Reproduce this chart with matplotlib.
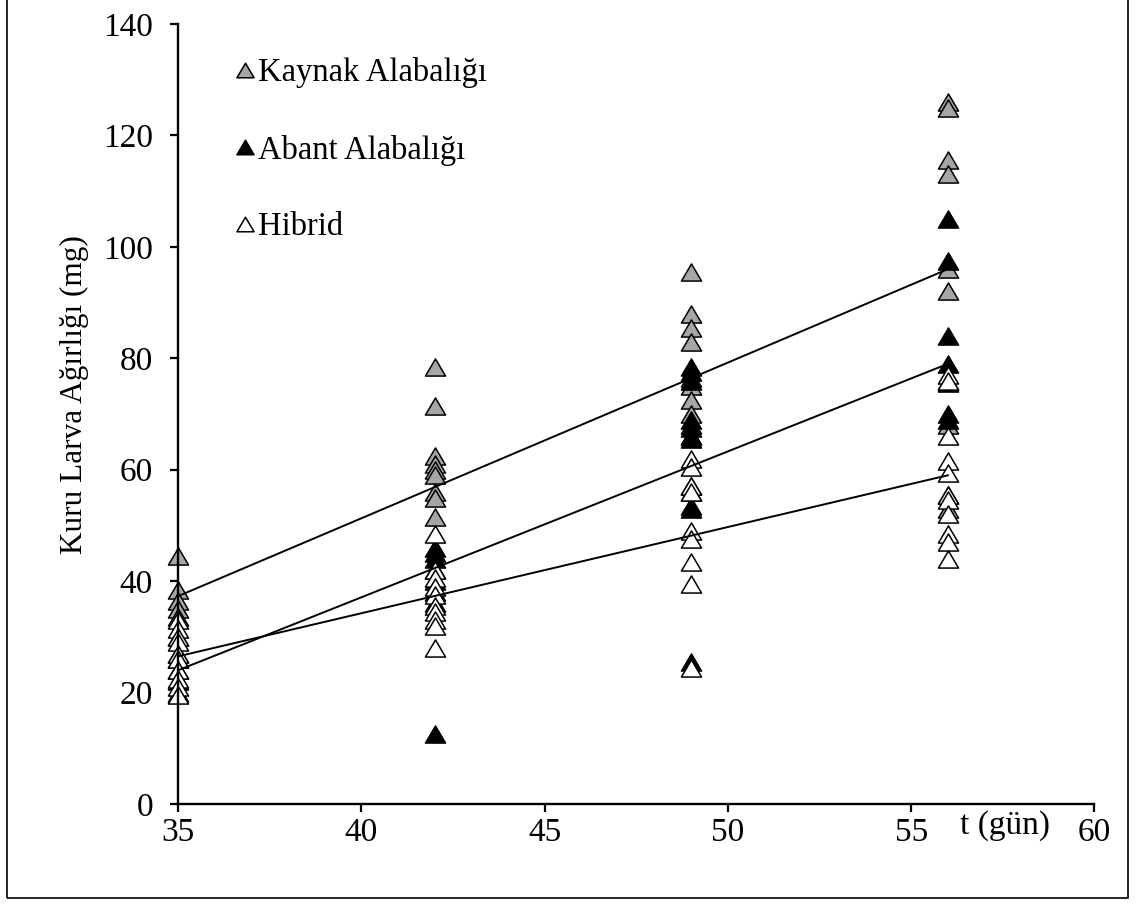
import numpy as np
import matplotlib.pyplot as plt
from matplotlib.patches import Rectangle
from matplotlib.path import Path

plt.rcParams['font.family'] = ['Liberation Serif', 'DejaVu Serif']

# Dry larval weight (mg) sampled on each day
kaynak_days = [35] * 5 + [42] * 9 + [49] * 10 + [56] * 9
kaynak_w = [44.5, 38.5, 36.5, 35, 33.5,
            78.5, 71.5, 62.5, 61, 60, 59, 56, 55, 51.5,
            95.5, 88, 85.5, 83, 76.5, 75, 72.5, 70, 68, 66,
            126, 125, 115.5, 113, 96, 92, 76, 68, 53]

abant_days = [35] * 6 + [42] * 8 + [49] * 12 + [56] * 8
abant_w = [30, 27, 26, 24, 22, 20,
           46, 45, 44, 42, 40, 38, 36, 12.5,
           78.5, 77.5, 76, 69, 67.5, 66, 65.5, 57, 56, 53.5, 53, 25.5,
           105, 97.5, 84, 79, 75.5, 70, 69, 55.5]

hibrid_days = [35] * 10 + [42] * 10 + [49] * 9 + [56] * 11
hibrid_w = [33, 31.5, 30, 29, 27, 26, 24, 22.5, 21, 19.5,
            48.5, 42, 40.5, 39, 37.5, 35.5, 34.5, 33, 32, 28,
            62, 60.5, 57, 56, 49, 47.5, 43.5, 39.5, 24.5,
            77, 76, 66, 61.5, 59.5, 55.5, 54.5, 52, 48.5, 47, 44]

# linear trend end values
fit_days = [35, 56]
kaynak_fit = [37.3, 96.0]
abant_fit = [24.0, 79.0]
hibrid_fit = [26.5, 59.0]

labels = ['Kaynak Alabalığı', 'Abant Alabalığı', 'Hibrid']
colors = ['#a6a6a6', 'black', 'white']

# slightly flattened triangle marker
tri = Path([(0, 0.85), (-1, -0.85), (1, -0.85), (0, 0.85)],
           [Path.MOVETO, Path.LINETO, Path.LINETO, Path.CLOSEPOLY])

fig = plt.figure(figsize=(11.41, 9.09), dpi=100)
ax = fig.add_axes([0.156, 0.1155, 0.8032, 0.8581])

series = [(kaynak_days, kaynak_w), (abant_days, abant_w), (hibrid_days, hibrid_w)]
for (d, w), c, lab in zip(series, colors, labels):
    ax.plot(d, w, linestyle='none', marker=tri, markersize=14.5,
            markerfacecolor=c, markeredgecolor='black', markeredgewidth=1.1,
            label=lab, zorder=2, clip_on=False)

for f in [kaynak_fit, abant_fit, hibrid_fit]:
    ax.plot(fit_days, f, color='black', lw=1.4, zorder=2.2, clip_on=False)

ax.set_xlim(35, 60)
ax.set_ylim(0, 140)
ax.set_xticks(np.arange(35, 61, 5))
ax.set_yticks(np.arange(0, 141, 20))
ax.tick_params(labelsize=24, width=1.6, length=6, direction='out')
ax.tick_params(axis='y', pad=12)
ax.tick_params(axis='x', pad=3.5)
for s in ['top', 'right']:
    ax.spines[s].set_visible(False)
for s in ['left', 'bottom']:
    ax.spines[s].set_linewidth(1.7)
    ax.spines[s].set_zorder(3)

ax.set_ylabel('Kuru Larva Ağırlığı (mg)', fontsize=22.5)
ax.yaxis.set_label_coords(-0.097, 0.525)
fig.text(1005 / 1141, 1 - 826 / 909, 't (gün)', fontsize=24,
         ha='center', va='center')

leg = ax.legend(loc='upper left', bbox_to_anchor=(0.03, 0.995), frameon=False,
                fontsize=23.5, markerscale=0.85, handlelength=0.6,
                handletextpad=0.1, labelspacing=1.42)

fig.patches.append(Rectangle((7 / 1141, 1 - 898 / 909), 1121 / 1141, 910 / 909,
                             transform=fig.transFigure, fill=False,
                             edgecolor='black', lw=1.2))

fig.savefig('out.png', dpi=100)
